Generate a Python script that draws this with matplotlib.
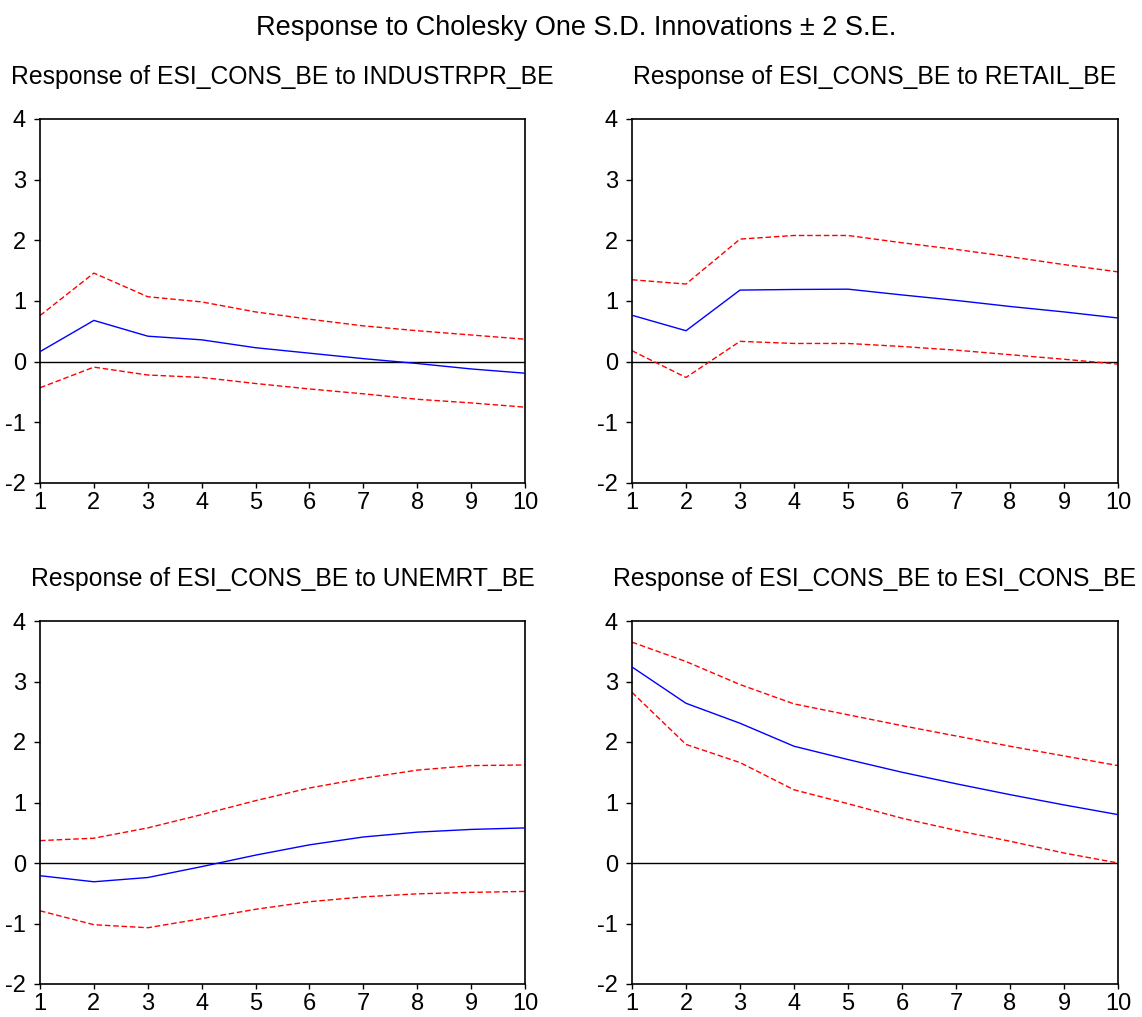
import matplotlib
matplotlib.use("Agg")
import matplotlib.pyplot as plt
import numpy as np

plt.rcParams['font.family'] = ['Liberation Sans', 'DejaVu Sans']
plt.rcParams['axes.unicode_minus'] = False

periods = [1, 2, 3, 4, 5, 6, 7, 8, 9, 10]

titles = [
    "Response of ESI_CONS_BE to INDUSTRPR_BE",
    "Response of ESI_CONS_BE to RETAIL_BE",
    "Response of ESI_CONS_BE to UNEMRT_BE",
    "Response of ESI_CONS_BE to ESI_CONS_BE",
]

# Impulse responses
resp_industrpr = [0.165, 0.68, 0.42, 0.36, 0.23, 0.14, 0.05, -0.03, -0.12, -0.19]
upper_industrpr = [0.76, 1.46, 1.07, 0.985, 0.82, 0.70, 0.59, 0.51, 0.44, 0.37]
lower_industrpr = [-0.43, -0.09, -0.22, -0.26, -0.36, -0.45, -0.53, -0.62, -0.68, -0.75]

resp_retail = [0.765, 0.51, 1.18, 1.19, 1.195, 1.10, 1.01, 0.91, 0.82, 0.72]
upper_retail = [1.35, 1.28, 2.02, 2.08, 2.08, 1.96, 1.85, 1.73, 1.60, 1.48]
lower_retail = [0.18, -0.26, 0.335, 0.30, 0.30, 0.25, 0.19, 0.115, 0.04, -0.04]

resp_unemrt = [-0.21, -0.31, -0.24, -0.06, 0.13, 0.30, 0.43, 0.51, 0.555, 0.58]
upper_unemrt = [0.37, 0.41, 0.58, 0.80, 1.03, 1.24, 1.40, 1.535, 1.61, 1.62]
lower_unemrt = [-0.79, -1.02, -1.07, -0.92, -0.765, -0.64, -0.56, -0.51, -0.485, -0.47]

resp_esi = [3.24, 2.64, 2.31, 1.93, 1.71, 1.50, 1.31, 1.13, 0.96, 0.80]
upper_esi = [3.65, 3.33, 2.95, 2.63, 2.45, 2.27, 2.10, 1.93, 1.77, 1.61]
lower_esi = [2.82, 1.96, 1.66, 1.21, 0.98, 0.74, 0.54, 0.36, 0.165, 0.0]

yticks = [-2, -1, 0, 1, 2, 3, 4]

W, H = 1142, 1017
fig = plt.figure(figsize=(W / 100, H / 100), dpi=100)

boxes = [
    (40, 119, 525, 483),
    (632, 119, 1118, 483),
    (40, 621, 525, 984),
    (632, 621, 1118, 984),
]
series = [
    (resp_industrpr, upper_industrpr, lower_industrpr),
    (resp_retail, upper_retail, lower_retail),
    (resp_unemrt, upper_unemrt, lower_unemrt),
    (resp_esi, upper_esi, lower_esi),
]

for (l, t, r, b), title, (resp, up, lo) in zip(boxes, titles, series):
    ax = fig.add_axes([l / W, 1 - b / H, (r - l) / W, (b - t) / H])
    ax.axhline(0, color='black', lw=1.0, zorder=1)
    ax.plot(periods, up, color='#ff0000', lw=1.0, ls=(0, (4, 2)), zorder=2)
    ax.plot(periods, lo, color='#ff0000', lw=1.0, ls=(0, (4, 2)), zorder=2)
    ax.plot(periods, resp, color='#0000ff', lw=1.0, zorder=3)
    ax.set_xlim(1, 10)
    ax.set_ylim(-2, 4)
    ax.set_xticks(periods)
    ax.set_yticks(yticks)
    ax.tick_params(axis='both', direction='out', width=1.0,
                   labelsize=17, colors='black')
    ax.tick_params(axis='x', length=3.5, pad=3)
    ax.tick_params(axis='y', length=4, pad=6)
    ax.tick_params(top=False, right=False)
    for s in ax.spines.values():
        s.set_linewidth(1.2)
        s.set_color('black')
    ax.set_title(title, fontsize=17.8, pad=25)

fig.text(576.5 / W, 1 - 28 / H, "Response to Cholesky One S.D. Innovations \u00b1 2 S.E.",
         ha='center', va='center', fontsize=19.5)

fig.savefig("out.png", dpi=100)
